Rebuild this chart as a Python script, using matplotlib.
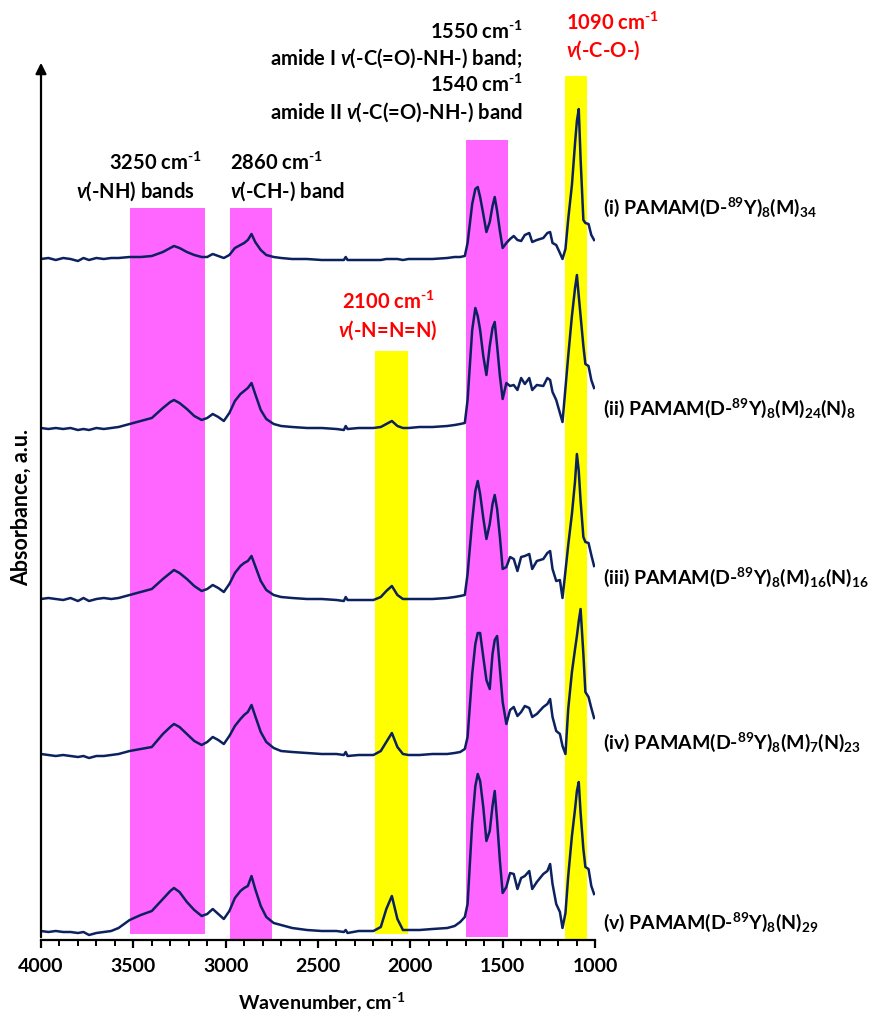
import matplotlib
matplotlib.use('Agg')
import matplotlib.pyplot as plt
from matplotlib.ticker import MultipleLocator

plt.rcParams['font.family'] = ['Lato', 'DejaVu Sans']
plt.rcParams['font.weight'] = 'bold'
plt.rcParams['mathtext.fontset'] = 'custom'
plt.rcParams['mathtext.rm'] = 'Lato:bold'
plt.rcParams['mathtext.it'] = 'Lato:italic:bold'
plt.rcParams['mathtext.bf'] = 'Lato:bold'

# FTIR spectra, wavenumber grid shared by all five samples (cm-1)
wavenumber = [4000, 3960, 3920, 3880, 3840, 3800, 3770, 3740, 3700, 3660, 3620, 3580,
              3520, 3460, 3400, 3340, 3300, 3280, 3250, 3210, 3170, 3130, 3100, 3070, 3040, 3010,
              2980, 2950, 2920, 2900, 2880, 2860, 2840, 2810, 2780, 2740, 2700, 2640,
              2560, 2480, 2400, 2360, 2350, 2340, 2280, 2200, 2160, 2130, 2100, 2070, 2040, 2010,
              1950, 1880, 1800, 1760, 1730, 1705, 1690, 1665, 1648, 1635, 1622, 1605, 1588, 1570,
              1555, 1543, 1530, 1515, 1500, 1480, 1460, 1440, 1420, 1400, 1380, 1356, 1340, 1315,
              1280, 1258, 1243, 1230, 1210, 1190, 1176, 1160, 1145, 1125, 1108, 1098, 1088, 1078,
              1063, 1052, 1035, 1020, 1005]

# absorbance (a.u.) of each sample, before stacking
abs_i = [0, 1, -1, 1, 0, -2, 1, -1, 1, 0, 1, 1,
         2, 2, 3, 7, 11, 13, 11, 7, 4, 2, 2, 5, 3, 1,
         4, 11, 14, 16, 19, 25, 17, 9, 4, 2, 1, 0,
         0, -1, -1, -1, 2, -1, -1, -1, -1, 0, 0, 0, -1, 0,
         0, 0, 1, 2, 2, 3, 16, 55, 70, 72, 62, 45, 27, 37,
         53, 62, 48, 28, 11, 16, 20, 23, 19, 18, 24, 26, 17, 19,
         21, 26, 27, 16, 14, 6, 0, 10, 40, 74, 116, 138, 150, 100,
         39, 36, 35, 24, 19]

abs_ii = [0, -1, 0, -1, 0, -2, -1, -2, 0, -1, 0, 1,
          4, 7, 10, 20, 26, 28, 25, 19, 12, 8, 10, 14, 11, 7,
          15, 27, 34, 37, 40, 45, 34, 18, 9, 4, 2, 1,
          0, 0, -1, -2, 2, -1, 0, 0, 1, 4, 7, 2, 0, 0,
          1, 1, 2, 3, 4, 5, 28, 98, 120, 112, 98, 72, 53, 82,
          100, 106, 82, 52, 29, 45, 42, 43, 38, 50, 44, 50, 38, 43,
          42, 50, 48, 36, 28, 15, 6, 40, 72, 112, 140, 153, 132, 112,
          82, 64, 62, 48, 40]

abs_iii = [0, 1, 0, -1, 1, -2, 1, -2, 0, 1, 0, 1,
           4, 7, 10, 20, 26, 29, 26, 20, 13, 8, 10, 14, 11, 7,
           15, 26, 33, 36, 38, 43, 33, 18, 9, 4, 2, 1,
           0, 0, -1, -2, 2, -1, -1, -1, 2, 8, 13, 4, 0, 0,
           0, 0, 1, 2, 3, 4, 25, 78, 108, 118, 105, 81, 60, 75,
           95, 104, 90, 62, 30, 32, 42, 40, 28, 42, 43, 45, 30, 38,
           40, 46, 48, 30, 18, 19, 1, 28, 54, 85, 118, 145, 128, 98,
           62, 57, 56, 44, 33]

abs_iv = [0, -1, -2, -1, -2, -3, -2, -4, -2, -2, -1, 0,
          3, 5, 7, 20, 27, 30, 27, 20, 13, 9, 12, 17, 14, 10,
          18, 28, 35, 39, 42, 49, 38, 22, 12, 6, 3, 2,
          1, 0, 0, -1, 2, -2, -1, -1, 3, 12, 21, 7, 0, -1,
          -1, 0, 0, 1, 2, 5, 17, 80, 110, 121, 121, 97, 74, 65,
          100, 114, 118, 85, 52, 30, 44, 47, 38, 42, 48, 46, 37, 40,
          47, 50, 55, 37, 23, 20, 8, 0, 45, 82, 105, 118, 133, 145,
          100, 62, 57, 46, 36]

abs_v = [0, -1, 0, -1, -1, -2, -1, -4, -2, -1, 0, 3,
         11, 16, 20, 32, 40, 43, 39, 29, 21, 15, 17, 22, 17, 12,
         20, 33, 40, 43, 45, 55, 42, 25, 14, 8, 6, 3,
         1, 0, 0, -1, 1, -2, 0, 0, 4, 22, 35, 12, 1, 1,
         1, 2, 3, 5, 9, 14, 27, 108, 145, 157, 150, 124, 90, 100,
         125, 140, 110, 70, 38, 44, 58, 57, 42, 53, 55, 60, 42, 49,
         57, 60, 67, 47, 27, 19, 3, 18, 55, 95, 122, 140, 149, 118,
         82, 64, 62, 45, 37]

spectra = [abs_i, abs_ii, abs_iii, abs_iv, abs_v]
sample_names = [r'(i) PAMAM(D-$^{89}$Y)$_{8}$(M)$_{34}$',
                r'(ii) PAMAM(D-$^{89}$Y)$_{8}$(M)$_{24}$(N)$_{8}$',
                r'(iii) PAMAM(D-$^{89}$Y)$_{8}$(M)$_{16}$(N)$_{16}$',
                r'(iv) PAMAM(D-$^{89}$Y)$_{8}$(M)$_{7}$(N)$_{23}$',
                r'(v) PAMAM(D-$^{89}$Y)$_{8}$(N)$_{29}$']

# highlighted bands (cm-1)
band_start = [3520, 2975, 2190, 1700, 1160]
band_end = [3110, 2750, 2010, 1470, 1045]

# stacking / layout
offsets = [681, 512, 341, 186, 9]
name_y = [733, 532, 363, 198, 18]
band_top = [732, 732, 589, 800, 864]
band_bottom = [6, 1, 6, 3, 1]
band_colors = ['#ff66ff', '#ff66ff', '#ffff00', '#ff66ff', '#ffff00']
line_color = '#0c2160'
fs = 14.5
cm = r'cm$^{\text{-}1}$'

fig = plt.figure(figsize=(8.76, 10.13), dpi=100)
W, H = 876, 1013
ax = fig.add_axes([41 / W, (H - 940) / H, (595 - 41) / W, (940 - 60) / H])
ax.set_xlim(4000, 1000)
ax.set_ylim(0, 880)

for lo, hi, top, bot, c in zip(band_start, band_end, band_top, band_bottom, band_colors):
    ax.fill_between([lo, hi], bot, top, color=c, lw=0, zorder=1)

for spec, off in zip(spectra, offsets):
    ax.plot(wavenumber, [a + off for a in spec], color=line_color, lw=1.8, zorder=3,
            solid_joinstyle='round')

for name, y in zip(sample_names, name_y):
    ax.text(958, y, name, fontsize=14, va='center', ha='left', clip_on=False)

# band assignments
ax.text(3128, 777, '3250 ' + cm, fontsize=fs, ha='right', va='center')
ax.text(3166, 749, r'$\mathit{v}$(-NH) bands', fontsize=fs, ha='right', va='center')
ax.text(2976, 777, '2860 ' + cm, fontsize=fs, ha='left', va='center')
ax.text(2976, 749, r'$\mathit{v}$(-CH-) band', fontsize=fs, ha='left', va='center')
ax.text(1392, 908, '1550 ' + cm, fontsize=fs, ha='right', va='center')
ax.text(1392, 882, r'amide I $\mathit{v}$(-C(=O)-NH-) band;', fontsize=fs, ha='right', va='center')
ax.text(1392, 855, '1540 ' + cm, fontsize=fs, ha='right', va='center')
ax.text(1392, 828, r'amide II $\mathit{v}$(-C(=O)-NH-) band', fontsize=fs, ha='right', va='center')
ax.text(1159, 917, '1090 ' + cm, fontsize=fs, ha='left', va='center', color='red')
ax.text(1159, 890, r'$\mathit{v}$(-C-O-)', fontsize=fs, ha='left', va='center', color='red')
ax.text(2120, 638, '2100 ' + cm, fontsize=fs, ha='center', va='center', color='red')
ax.text(2120, 610, r'$\mathit{v}$(-N=N=N)', fontsize=fs, ha='center', va='center', color='red')

# axes: bottom spine with ticks, y axis as an arrow
for s in ['top', 'right', 'left']:
    ax.spines[s].set_visible(False)
ax.spines['bottom'].set_linewidth(1.6)
ax.spines['bottom'].set_color('black')
ax.set_yticks([])
ax.xaxis.set_major_locator(MultipleLocator(500))
ax.xaxis.set_minor_locator(MultipleLocator(100))
ax.tick_params(axis='x', which='major', direction='out', length=6, width=1.6, pad=7,
               labelsize=14)
ax.tick_params(axis='x', which='minor', direction='out', length=4.5, width=1.4)
for lab in ax.get_xticklabels():
    lab.set_fontweight('bold')
ax.annotate('', xy=(0, 1), xytext=(0, 0), xycoords='axes fraction',
            arrowprops=dict(arrowstyle='-|>', color='black', lw=1.6, mutation_scale=16))

fig.text(322 / W, 1 - 1002 / H, 'Wavenumber, ' + cm, fontsize=14, ha='center', va='center')
fig.text(21 / W, 1 - 507 / H, 'Absorbance, a.u.', fontsize=15.5, ha='center', va='center',
         rotation=90)

fig.savefig('out.png', dpi=100)
